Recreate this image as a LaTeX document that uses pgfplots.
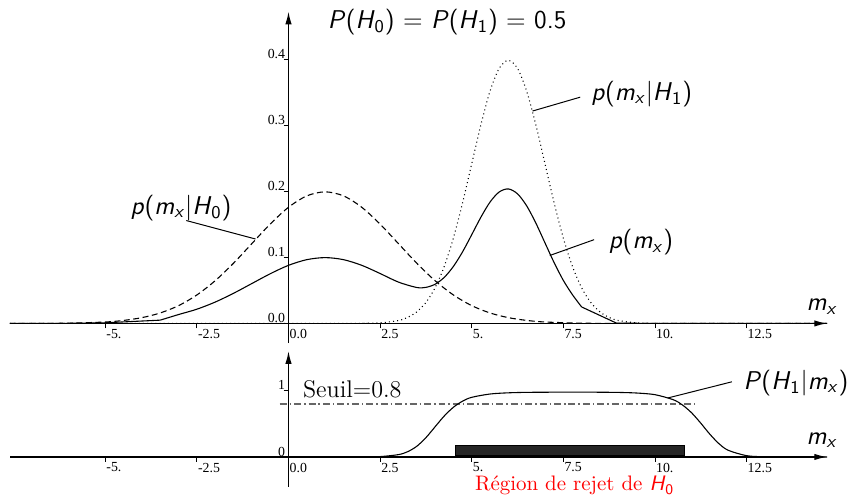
\documentclass[border=0pt]{standalone}
\usepackage{fontspec}
\usepackage{pgfplots}
\pgfplotsset{compat=1.18}
\usetikzlibrary{arrows.meta}
\newfontfamily\tickfont{Liberation Serif}
\newcommand\lbl{\sffamily\fontsize{13}{15}\selectfont}
\begin{document}
\begin{tikzpicture}
\pgfplotsset{
  schema/.style={
    axis lines=middle,
    x=18.525pt,
    xmin=-7.6, xmax=14.7,
    enlargelimits=false,
    axis line style={line width=0.7pt, -{Latex[length=6.5pt,width=3.2pt]}},
    every inner x axis line/.append style={-{Latex[length=6.5pt,width=3.2pt]}},
    every inner y axis line/.append style={-{Latex[length=6.5pt,width=3.2pt]}},
    tick align=outside,
    major tick length=2.5pt,
    tick style={black, line width=0.4pt},
    xtick={-5,-2.5,0,2.5,5,7.5,10,12.5},
    xticklabels={-5.,-2.5,0.0,2.5,5.,7.5,10.,12.5},
    xticklabel style={anchor=north west, inner sep=0pt, xshift=0.4pt, yshift=-0.3pt},
    yticklabel style={anchor=south east, inner sep=0pt, xshift=1pt, yshift=0.2pt},
    tick label style={font=\tickfont\fontsize{7}{8}\selectfont},
    hide obscured x ticks=false, hide obscured y ticks=false,
    clip=false,
    anchor=origin,
  },
  courbe/.style={black, line width=0.55pt},
}

% ---- densites ----
\begin{axis}[schema, y=333.5pt, ymin=-0.03, ymax=0.473,
  ytick={0,0.1,0.2,0.3,0.4}, yticklabels={0.0,0.1,0.2,0.3,0.4}]
\path (axis cs:-7.873,-0.2624) rectangle (axis cs:15.204,0.4903);

% p(m_x|H_0)
\addplot[courbe, smooth, dash pattern=on 3pt off 1.8pt] coordinates {
 (-7.6,0) (-7,0.0001) (-6,0.0004) (-5,0.0022) (-4.5,0.0046) (-4,0.0088)
 (-3.5,0.0159) (-3,0.0270) (-2.5,0.0432) (-2,0.0648) (-1.5,0.0913) (-1,0.1210)
 (-0.5,0.1506) (0,0.1761) (0.5,0.1934) (1,0.1995) (1.5,0.1934) (2,0.1761)
 (2.5,0.1506) (3,0.1210) (3.5,0.0913) (4,0.0648) (4.5,0.0432) (5,0.0270)
 (5.5,0.0159) (6,0.0088) (6.5,0.0046) (7,0.0022) (8,0.0004) (9,0.0001)
 (10,0) (14.7,0)};

% p(m_x|H_1)
\addplot[courbe, smooth, dash pattern=on 0.5pt off 1.6pt] coordinates {
 (-7.6,0) (1.5,0) (2,0.0001) (2.5,0.0009) (3,0.0044) (3.25,0.0091) (3.5,0.0175)
 (3.75,0.0318) (4,0.0540) (4.25,0.0863) (4.5,0.1295) (4.75,0.1826) (5,0.2420)
 (5.25,0.3011) (5.5,0.3521) (5.75,0.3866) (6,0.3989) (6.25,0.3866) (6.5,0.3521)
 (6.75,0.3011) (7,0.2420) (7.25,0.1826) (7.5,0.1295) (7.75,0.0863) (8,0.0540)
 (8.25,0.0318) (8.5,0.0175) (8.75,0.0091) (9,0.0044) (9.5,0.0009) (10,0.0001)
 (10.5,0) (14.7,0)};

% p(m_x)
\addplot[courbe] coordinates {(-7.6,0) (-6,0.0002) (-5,0.001) (-3.5,0.005)};
\addplot[courbe, smooth] coordinates {
 (-3.5,0.005) (-3,0.0135) (-2.5,0.0216) (-2,0.0324) (-1.5,0.0457) (-1,0.0605)
 (-0.5,0.0753) (0,0.0881) (0.5,0.0967) (1,0.0998) (1.5,0.0967) (2,0.0881)
 (2.5,0.0757) (3,0.0627) (3.5,0.0545) (3.75,0.0547) (4,0.0594) (4.25,0.0698)
 (4.5,0.0864) (4.75,0.1085) (5,0.1345) (5.25,0.1610) (5.5,0.1840) (5.75,0.1993)
 (6,0.2039) (6.25,0.1965) (6.5,0.1783) (6.75,0.1522) (7,0.1221) (7.25,0.0921)
 (7.5,0.0653) (7.75,0.0435) (8,0.025)};
\addplot[courbe] coordinates {(8,0.025) (8.95,0.0005) (10,0) (14.7,0)};

\draw[line width=0.5pt] (axis cs:-2.79,0.156) -- (axis cs:-0.90,0.128);
\draw[line width=0.5pt] (axis cs:7.96,0.343) -- (axis cs:6.66,0.322);
\draw[line width=0.5pt] (axis cs:8.34,0.127) -- (axis cs:7.13,0.103);

\node[font=\lbl] at (axis cs:-2.93,0.175)
  {\textit{p}(\textit{m}\textsubscript{\textit{x}}|\textit{H}\textsubscript{0})};
\node[font=\lbl] at (axis cs:9.64,0.348)
  {\textit{p}(\textit{m}\textsubscript{\textit{x}}|\textit{H}\textsubscript{1})};
\node[font=\lbl] at (axis cs:9.62,0.123)
  {\textit{p}(\textit{m}\textsubscript{\textit{x}})};
\node[font=\lbl] at (axis cs:4.33,0.457)
  {\textit{P}(\textit{H}\textsubscript{0}) = \textit{P}(\textit{H}\textsubscript{1}) = 0.5};
\node[font=\lbl] at (axis cs:14.56,0.0255) {\textit{m}\textsubscript{\textit{x}}};
\end{axis}

% ---- probabilite a posteriori ----
\begin{axis}[schema, at={(0pt,-67.5pt)}, y=33.5pt, ymin=-0.45, ymax=1.6,
  ytick={0,1}, yticklabels={0,1}]
\addplot[draw=black, fill=black!85, line width=0.4pt]
  coordinates {(4.55,0.025) (10.8,0.025) (10.8,0.17) (4.55,0.17)} -- cycle;

\addplot[color=black!60, line width=0.6pt, dash pattern=on 3.5pt off 1.5pt on 0.8pt off 1.5pt]
  coordinates {(-0.24,0.8) (11.1,0.8)};

\addplot[courbe, smooth] coordinates {
 (0,0) (1,0) (2,0.0008) (2.5,0.0058) (3,0.0353) (3.25,0.0791) (3.5,0.161)
 (3.75,0.291) (4,0.455) (4.25,0.618) (4.5,0.750) (4.75,0.842) (5,0.900)
 (5.5,0.950) (6,0.968) (6.5,0.975) (7,0.977) (7.5,0.978) (8,0.978) (8.5,0.977)
 (9,0.974) (9.5,0.965) (10,0.940) (10.5,0.864) (10.75,0.785) (11,0.667)
 (11.25,0.511) (11.5,0.343) (11.75,0.199) (12,0.101) (12.5,0.020) (13,0.003)
 (14,0) (14.7,0)};

\draw[line width=0.5pt] (axis cs:12.1,1.134) -- (axis cs:10.35,0.89);

\node[font=\lbl] at (axis cs:13.85,1.12)
  {\textit{P}(\textit{H}\textsubscript{1}|\textit{m}\textsubscript{\textit{x}})};
\node[font=\lbl] at (axis cs:14.56,0.254) {\textit{m}\textsubscript{\textit{x}}};
\node[font=\fontsize{12.2}{14}\selectfont] at (axis cs:1.74,1.015) {Seuil=0.8};
\node[font=\fontsize{10.6}{12}\selectfont, text=red] at (axis cs:7.81,-0.433)
  {Région de rejet de \textsf{\textit{H}\textsubscript{0}}};
\end{axis}
\end{tikzpicture}
\end{document}
